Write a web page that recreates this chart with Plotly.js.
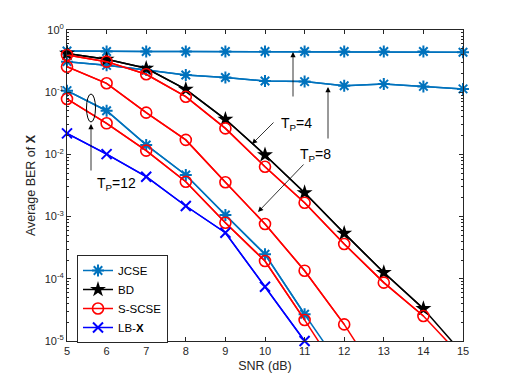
<!DOCTYPE html>
<html><head><meta charset="utf-8">
<script src="https://cdn.plot.ly/plotly-3.0.1.min.js"></script>
<style>html,body{margin:0;padding:0;background:#fff}#plot{width:512px;height:384px}</style>
</head><body><div id="plot"></div>
<script>
const snr = [5,6,7,8,9,10,11,12,13,14,15];
const jcseTP4  = [0.46,0.45,0.45,0.45,0.45,0.45,0.45,0.45,0.45,0.45,0.44];
const jcseTP8  = [0.31,0.27,0.227,0.189,0.172,0.151,0.148,0.127,0.135,0.124,0.113];
const jcseTP12 = [0.106,0.0504,0.0142,0.00467,0.00106,0.000248,0.0000269,0.0000032];
const bdTP4    = [0.42,0.338,0.242,0.111,0.0367,0.0098,0.00242,0.000538,0.000126,0.0000331,0.0000062];
const sscTP4   = [0.396,0.31,0.194,0.0847,0.0262,0.00634,0.00167,0.000363,0.0000867,0.0000252,0.0000053];
const sscTP8   = [0.257,0.139,0.0469,0.0171,0.00356,0.00076,0.000135,0.0000185,0.0000019];
const sscTP12  = [0.0778,0.0316,0.0115,0.00364,0.000797,0.000193,0.0000218,0.0000023];
const lbx      = [0.0218,0.0101,0.00438,0.00148,0.00055,0.0000746,0.00001];
const yTickVals = [1,0.1,0.01,0.001,0.0001,0.00001];
const yTickText = ['10<sup>0</sup>','10<sup>-1</sup>','10<sup>-2</sup>','10<sup>-3</sup>','10<sup>-4</sup>','10<sup>-5</sup>'];
const xTickVals = [5,6,7,8,9,10,11,12,13,14,15];

const minorVals = [];
for (let e = -5; e < 0; e++) for (let m = 2; m <= 9; m++) minorVals.push(m * Math.pow(10, e));

const traces = [];
function addSeries(y, color, marker, name, group) {
  const x = snr.slice(0, y.length);
  const line = {color: color, width: 1.5};
  traces.push({x: x, y: y, mode: 'lines', line: line, showlegend: false, hoverinfo: 'skip'});
  const idx = y.map((v, i) => i).filter(i => y[i] >= 0.99e-5);
  traces.push({x: idx.map(i => x[i]), y: idx.map(i => y[i]), mode: 'lines+markers', line: line,
    marker: marker, cliponaxis: false, name: name || group, showlegend: !!name, legendgroup: group});
}
const cJ = '#0072BD';
const mJ = {symbol: 'asterisk-open', size: 10, line: {color: cJ, width: 2}, color: cJ};
const mB = {symbol: 'star', size: 12, color: '#000000', line: {width: 0}};
const mS = {symbol: 'circle-open', size: 11, color: '#FF0000', line: {color: '#FF0000', width: 1.6}};
const mL = {symbol: 'x-thin-open', size: 10, color: '#0000FF', line: {color: '#0000FF', width: 2}};
addSeries(jcseTP4, cJ, mJ, 'JCSE', 'jcse');
addSeries(jcseTP8, cJ, mJ, null, 'jcse');
addSeries(jcseTP12, cJ, mJ, null, 'jcse');
addSeries(bdTP4, '#000000', mB, 'BD', 'bd');
addSeries(sscTP4, '#FF0000', mS, 'S-SCSE', 'ssc');
addSeries(sscTP8, '#FF0000', mS, null, 'ssc');
addSeries(sscTP12, '#FF0000', mS, null, 'ssc');
addSeries(lbx, '#0000FF', mL, 'LB-<b>X</b>', 'lbx');

const L = 67, R = 463, T = 30, B = 341;
const px = p => (p - L) / (R - L);
const py = p => (B - p) / (B - T);
const arrowStyle = {showarrow: true, arrowhead: 2, arrowsize: 1.3, arrowwidth: 0.8, arrowcolor: '#000', standoff: 0, startstandoff: 0, xref: 'paper', yref: 'paper', text: ''};
const annFont = {family: 'Liberation Sans, Arial, sans-serif', size: 14, color: '#000'};
const annotations = [
  Object.assign({}, arrowStyle, {x: px(91), y: py(124), ax: 0, ay: 48}),
  Object.assign({}, arrowStyle, {x: px(293), y: py(52), ax: 0, ay: 46}),
  Object.assign({}, arrowStyle, {x: px(252), y: py(144), ax: 23, ay: -23}),
  Object.assign({}, arrowStyle, {x: px(328), y: py(87), ax: 0, ay: 53}),
  Object.assign({}, arrowStyle, {x: px(258), y: py(212), ax: 47, ay: -49}),
  {xref: 'paper', yref: 'paper', x: px(95), y: py(184), text: 'T<sub>P</sub>=12', showarrow: false, font: annFont},
  {xref: 'paper', yref: 'paper', x: px(296), y: py(113), text: 'T<sub>P</sub>=4', showarrow: false, font: annFont},
  {xref: 'paper', yref: 'paper', x: px(333), y: py(155), text: 'T<sub>P</sub>=8', showarrow: false, font: annFont}
];
const shapes = [{type: 'circle', xref: 'paper', yref: 'paper', x0: px(86.5), x1: px(95.5), y0: py(122), y1: py(94), line: {color: '#000', width: 1}}];

const axisCommon = {showline: true, linecolor: '#262626', linewidth: 1, mirror: 'ticks', ticks: 'inside', ticklen: 4,
  tickcolor: '#262626', showgrid: false, zeroline: false, tickfont: {size: 11, color: '#262626'}};
const layout = {
  width: 512, height: 384, margin: {l: L, r: 512 - R, t: T, b: 384 - B},
  paper_bgcolor: '#fff', plot_bgcolor: '#fff',
  font: {family: 'Liberation Sans, Arial, sans-serif', color: '#262626', size: 11},
  xaxis: Object.assign({}, axisCommon, {range: [5, 15], tickmode: 'array', tickvals: xTickVals,
    title: {text: 'SNR (dB)', font: {size: 12.5}, standoff: 5}}),
  yaxis: Object.assign({}, axisCommon, {type: 'log', range: [-5, 0], tickmode: 'array', tickvals: yTickVals, ticktext: yTickText,
    minor: {tickmode: 'array', tickvals: minorVals, ticks: 'inside', ticklen: 2, tickcolor: '#262626'},
    title: {text: 'Average BER of <b>X</b>', font: {size: 12.5}, standoff: 6}}),
  legend: {x: px(77), y: py(255), xanchor: 'left', yanchor: 'top', bgcolor: '#fff', bordercolor: '#262626', borderwidth: 1,
    font: {size: 11.5, color: '#000'}, tracegroupgap: 0, itemwidth: 30},
  showlegend: true,
  annotations: annotations, shapes: shapes
};
Plotly.newPlot('plot', traces, layout, {staticPlot: true});
</script></body></html>
